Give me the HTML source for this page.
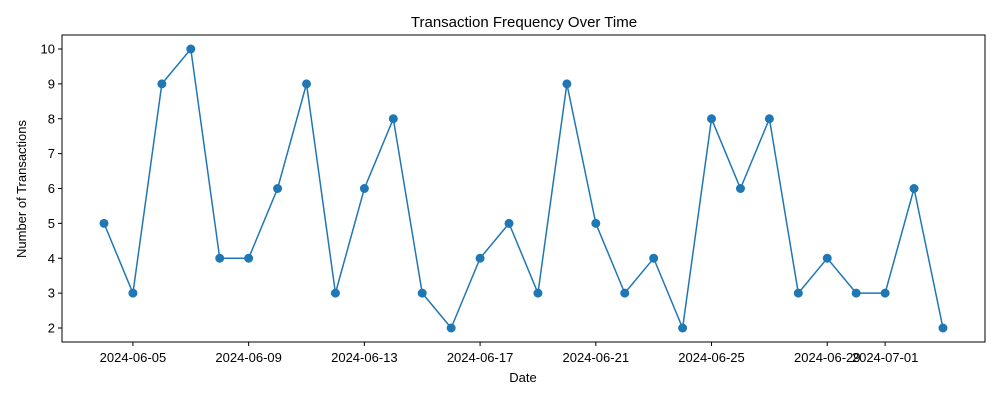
<!DOCTYPE html>
<html><head><meta charset="utf-8"><style>
body{margin:0;background:#fff;font-family:"Liberation Sans","DejaVu Sans",sans-serif}
</style></head><body>
<svg id="chart" width="1000" height="400" xmlns="http://www.w3.org/2000/svg">
<rect width="1000" height="400" fill="#fff"/>
<text x="524" y="27" text-anchor="middle" font-size="15">Transaction Frequency Over Time</text>
<g id="axes"></g>
<rect x="62" y="35" width="923" height="307" fill="none" stroke="#000" stroke-width="1"/>
<text x="523" y="382" text-anchor="middle" font-size="13">Date</text>
<text transform="translate(26,189) rotate(-90)" text-anchor="middle" font-size="13">Number of Transactions</text>
</svg>
<script>
const dayOffsets=[0,1,2,3,4,5,6,7,8,9,10,11,12,13,14,15,16,17,18,19,20,21,22,23,24,25,26,27,28,29];
const counts=[5,3,9,10,4,4,6,9,3,6,8,3,2,4,5,3,9,5,3,4,2,8,6,8,3,4,3,3,6,2];
const xTickOffsets=[1,5,9,13,17,21,25,27];
const xTickLabels=["2024-06-05","2024-06-09","2024-06-13","2024-06-17","2024-06-21","2024-06-25","2024-06-29","2024-07-01"];
const yTicks=[2,3,4,5,6,7,8,9,10];
const NS="http://www.w3.org/2000/svg";
const g=document.getElementById('axes');
const xs=d=>104+d*28.93;
const ys=v=>328-(v-2)*34.875;
function el(t,a){const e=document.createElementNS(NS,t);for(const k in a)e.setAttribute(k,a[k]);g.appendChild(e);return e;}
yTicks.forEach(v=>{
 const l=el('line',{x1:58,x2:62,y1:ys(v),y2:ys(v),stroke:'#000'});
 
 
 const t=el('text',{x:55,y:ys(v)+4.5,'text-anchor':'end','font-size':13});
 t.textContent=v;
 
 
});
xTickOffsets.forEach((d,i)=>{
 const l=el('line',{x1:xs(d),x2:xs(d),y1:342,y2:346,stroke:'#000'});
 
 
 const t=el('text',{x:xs(d),y:362,'text-anchor':'middle','font-size':13});
 t.textContent=xTickLabels[i];
 
 
});
const p=el('polyline',{points:dayOffsets.map((d,i)=>xs(d)+','+ys(counts[i])).join(' '),fill:'none',stroke:'#1f77b4','stroke-width':1.5});


dayOffsets.forEach((d,i)=>{
 const c=el('circle',{cx:xs(d),cy:ys(counts[i]),r:4.5,fill:'#1f77b4'});
 
 
});
</script>
</body></html>
